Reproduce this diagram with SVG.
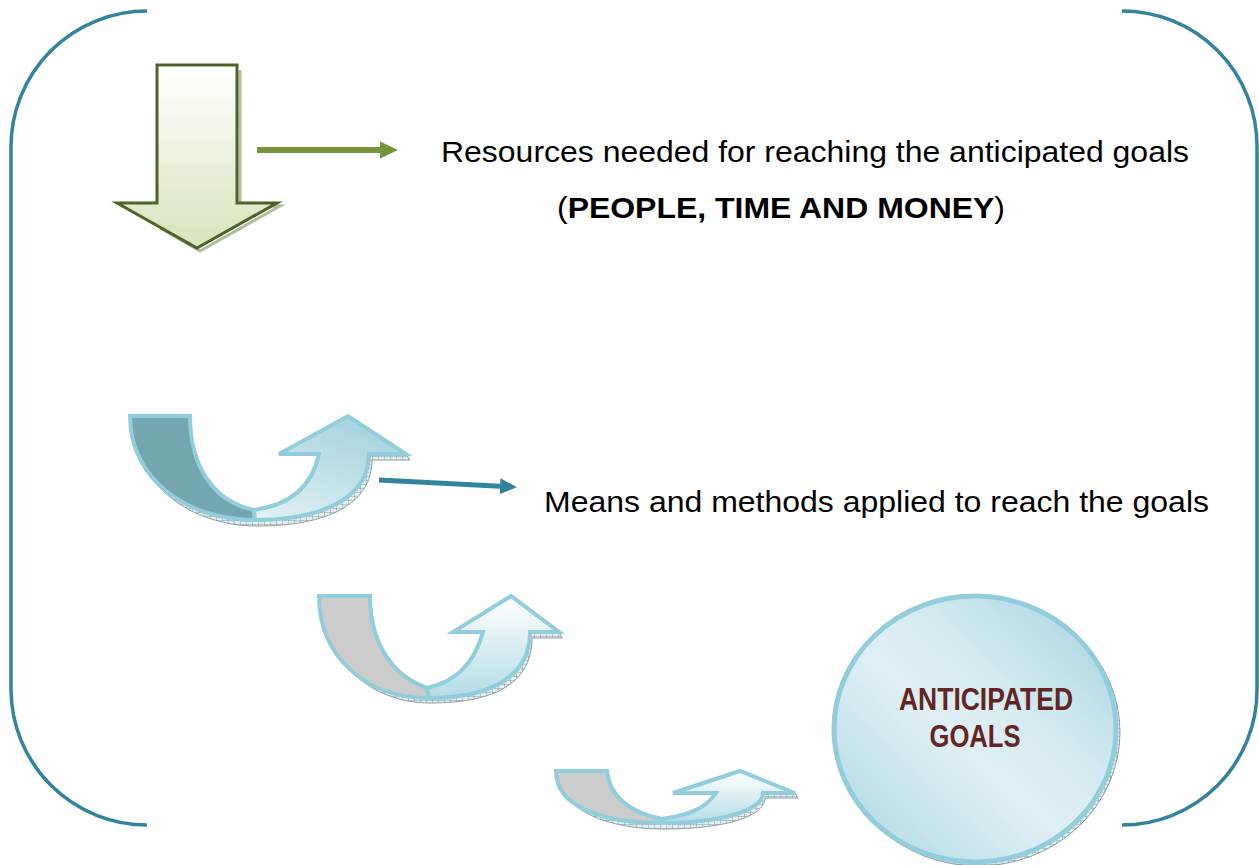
<svg xmlns="http://www.w3.org/2000/svg" width="1259" height="865" viewBox="0 0 1259 865">
<style>
.bracket{fill:none;stroke:#31849b;stroke-width:3.5}
.txt{font-family:"Liberation Sans",Arial,sans-serif;fill:#000}
.goal{font-family:"Liberation Sans",Arial,sans-serif;font-weight:bold;fill:#632523}
.uarm{stroke:#92cddc;stroke-width:4;stroke-linejoin:miter}
.shadow{fill:url(#hatch);stroke:#6d8a92;stroke-width:1;opacity:0.8}
</style>
<defs>
<linearGradient id="gGreen" x1="0" y1="0" x2="0" y2="1">
<stop offset="0" stop-color="#ffffff"/>
<stop offset="1" stop-color="#d7e4bd"/>
</linearGradient>
<linearGradient id="gBlue1" x1="0" y1="1" x2="0.6" y2="0">
<stop offset="0" stop-color="#e2f1f5"/>
<stop offset="1" stop-color="#a6d4df"/>
</linearGradient>
<linearGradient id="gBlue2" x1="0" y1="0" x2="0" y2="1">
<stop offset="0" stop-color="#ffffff"/>
<stop offset="1" stop-color="#b4dce6"/>
</linearGradient>
<linearGradient id="gCircle" x1="0" y1="1" x2="1" y2="0">
<stop offset="0" stop-color="#a9d6e1"/>
<stop offset="0.45" stop-color="#e0f0f5"/>
<stop offset="0.6" stop-color="#d7ecf2"/>
<stop offset="1" stop-color="#a3d2de"/>
</linearGradient>
<pattern id="hatch" width="6" height="4" patternUnits="userSpaceOnUse">
<rect width="6" height="4" fill="#dfe9ec"/>
<path d="M0,0 L6,0 M0,0 L0,4" stroke="#4d6f78" stroke-width="0.8"/>
</pattern>
<marker id="mGreen" markerUnits="userSpaceOnUse" markerWidth="20" markerHeight="20" refX="0" refY="9" orient="auto">
<polygon points="0,0.5 18,9 0,17.5" fill="#77933c"/>
</marker>
<marker id="mTeal" markerUnits="userSpaceOnUse" markerWidth="20" markerHeight="20" refX="0" refY="8" orient="auto">
<polygon points="0,0 17,8 0,16" fill="#31849b"/>
</marker>
</defs>

<g id="frame">
<path class="bracket" d="M147,11 A136,136 0 0 0 11,147 L11,690 A136,136 0 0 0 147,825"/>
<path class="bracket" d="M1122,11 A135,135 0 0 1 1257,146 L1257,690 A135,135 0 0 1 1122,825"/>
</g>

<g id="resources-arrow">
<path d="M240,70 L240,206 L280,206 L200,251 L160,228" fill="none" stroke="#7d8f5a" stroke-width="3" opacity="0.6"/>
<path d="M157,65 L237,65 L237,203 L277,203 L197,248 L117,203 L157,203 Z" fill="url(#gGreen)" stroke="#4f6228" stroke-width="3" stroke-linejoin="miter"/>
</g>

<g id="method-arrow-1">
<path class="shadow" d="M132,420 C134,486 192,526 257,526 C326,526 372,505 372,460 L410,460 L406,454 L369,454 C369,500 320,520 255,520 C190,520 132,480 130,418 Z"/>
<path class="uarm" fill="#74a6b0" d="M130,416 L190,416 C190,468 215,502 254,510 L255,520 C188,520 130,480 130,416 Z"/>
<path class="uarm" fill="url(#gBlue1)" d="M255,520 C322,520 369,498 369,454 L406,454 L348,416 L279,454 L319,454 C312,487 290,505 254,510 Z"/>
</g>

<g id="method-arrow-2">
<path class="shadow" d="M321,600 C323,660 370,703 430,703 C500,703 532,680 532,638 L562,638 L559,632 L530,632 C530,675 495,698 429,698 C362,698 321,655 319,598 Z"/>
<path class="uarm" fill="#cccccc" d="M319,596 L370,596 C370,640 390,675 427,688 L429,698 C364,698 319,655 319,596 Z"/>
<path class="uarm" fill="url(#gBlue2)" d="M429,698 C495,698 530,674 530,632 L559,632 L511,596 L453,632 L483,632 C474,665 455,682 427,688 Z"/>
</g>

<g id="method-arrow-3">
<path class="shadow" d="M558,775 C562,812 610,829 663,829 C730,829 765,815 765,798 L798,798 L795,793 L763,793 C763,808 730,823 662,823 C600,823 558,806 556,773 Z"/>
<path class="uarm" fill="#cccccc" d="M556,771 L607,771 C609,796 630,813 662,819 L662,823 C600,823 556,806 556,771 Z"/>
<path class="uarm" fill="url(#gBlue2)" d="M662,823 C728,823 763,808 763,793 L795,793 L740,771 L673,793 L716,793 C706,808 690,815 662,819 Z"/>
</g>

<g id="anticipated-goals">
<ellipse cx="978" cy="732" rx="142" ry="134" fill="url(#hatch)" stroke="#6d8a92" stroke-width="1" opacity="0.8"/>
<ellipse cx="975" cy="729" rx="141" ry="133" fill="url(#gCircle)" stroke="#92cddc" stroke-width="5"/>
<text class="goal" x="986" y="710" font-size="31" text-anchor="middle" textLength="174" lengthAdjust="spacingAndGlyphs">ANTICIPATED</text>
<text class="goal" x="975" y="747" font-size="31" text-anchor="middle" textLength="91" lengthAdjust="spacingAndGlyphs">GOALS</text>
</g>

<g id="labels">
<text class="txt" x="441" y="162" font-size="30" textLength="748" lengthAdjust="spacingAndGlyphs">Resources needed for reaching the anticipated goals</text>
<text class="txt" x="557" y="218" font-size="30" textLength="448" lengthAdjust="spacingAndGlyphs">(<tspan font-weight="bold">PEOPLE, TIME AND MONEY</tspan>)</text>
<text class="txt" x="544" y="512" font-size="30" textLength="665" lengthAdjust="spacingAndGlyphs">Means and methods applied to reach the goals</text>
</g>

<g id="connectors">
<line x1="257" y1="150" x2="380" y2="150" stroke="#77933c" stroke-width="6" marker-end="url(#mGreen)"/>
<line x1="379" y1="480" x2="500" y2="486.3" stroke="#31849b" stroke-width="5" marker-end="url(#mTeal)"/>
</g>
</svg>
